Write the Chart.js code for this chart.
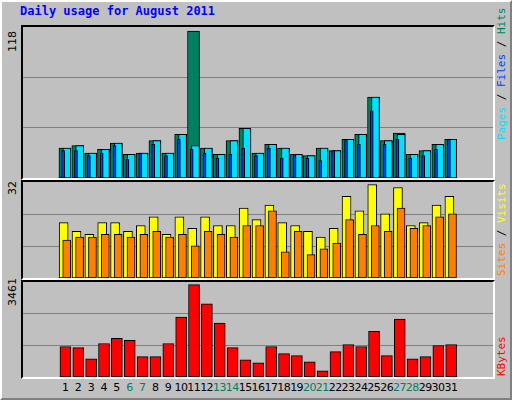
<!DOCTYPE html>
<html>
<head>
<meta charset="utf-8">
<script src="https://cdn.jsdelivr.net/npm/chart.js@4"></script>
<style>
  body { margin: 0; background: #fff; }
  #frame { position: relative; width: 508px; height: 396px; background: #C0C0C0;
    border-left: 2px solid #fff; border-top: 2px solid #fff;
    border-right: 2px solid #808080; border-bottom: 2px solid #808080; overflow: hidden; }
  .panel { position: absolute; left: 19px; width: 470px;
    border-top: 2px solid #000; border-left: 2px solid #000;
    border-right: 2px solid #fff; border-bottom: 2px solid #fff; }
  .panel canvas { display: block; }
  .txt { position: absolute; font-family: "DejaVu Sans", sans-serif; font-size: 11px; white-space: nowrap; }
  .rot { transform-origin: left top; transform: rotate(-90deg); }
  .side { position: absolute; font-family: "DejaVu Sans Mono", monospace; font-size: 11px; white-space: nowrap;
    transform-origin: left top; transform: rotate(-90deg); }
</style>
</head>
<body>
<div id="frame">
  <div class="txt" style="left:18px;top:2px;font-family:'DejaVu Sans Mono',monospace;font-weight:bold;font-size:12px;color:#0000ff;">Daily usage for August 2011</div>

  <div class="panel" style="top:23px;height:151px;"><canvas id="c1"></canvas></div>
  <div class="panel" style="top:178px;height:96px;"><canvas id="c2"></canvas></div>
  <div class="panel" style="top:278px;height:95px;"><canvas id="c3"></canvas></div>

  <div class="txt rot" style="left:4px;top:50px;">118</div>
  <div class="txt rot" style="left:4px;top:193px;">32</div>
  <div class="txt rot" style="left:4px;top:304px;">3461</div>

  <div class="side" style="left:493px;top:138px;"><span style="color:#00e0ff">Pages</span> / <span style="color:#0040ff">Files</span> / <span style="color:#008060">Hits</span></div>
  <div class="side" style="left:493px;top:274px;"><span style="color:#ff8000">Sites</span> / <span style="color:#ffff00">Visits</span></div>
  <div class="side" style="left:493px;top:374px;color:#ff0000;">KBytes</div>
  <div id="xlabels"></div>
</div>

<script>
// ===== Data =====
const days = [1,2,3,4,5,6,7,8,9,10,11,12,13,14,15,16,17,18,19,20,21,22,23,24,25,26,27,28,29,30,31];
const weekend = [6,7,13,14,20,21,27,28];
const hits   = [24,26,20,23,28,19,20,30,20,35,118,24,19,30,40,20,27,24,19,18,24,22,31,35,65,30,36,19,22,27,31];
const files  = [24,26,20,23,28,19,20,30,20,35,26,24,19,30,40,20,27,24,19,18,24,22,31,35,65,30,35,19,22,27,31];
const pages  = [22,22,18,20,26,15,20,27,18,31,23,20,16,19,24,18,24,16,19,16,14,22,30,27,54,27,31,16,18,23,31];
const sites  = [19,16,15,19,19,16,18,21,15,21,17,21,18,18,24,20,25,19,18,16,14,17,28,23,32,22,31,18,19,25,28];
const visits = [13,14,14,15,15,14,15,16,14,15,11,16,15,14,18,18,23,9,16,8,10,12,20,15,18,16,24,17,18,21,22];
const kbytes = [1141,1103,685,1255,1445,1369,761,761,1255,2244,3461,2739,2016,1103,647,533,1141,875,799,571,228,951,1217,1141,1712,799,2168,685,761,1179,1217];
const maxHits = 118, maxVisits = 32, maxKB = 3461;

// ===== Helpers =====
const pts = (vals, shift) => vals.map((v, i) => ({ x: days[i] + shift, y: v }));

// order: higher = drawn further back
function bars(label, vals, shift, color, thick, order) {
  return { label, data: pts(vals, shift), backgroundColor: color, borderColor: '#000',
    borderWidth: 1, barThickness: thick, grouped: false, borderSkipped: false, order };
}

function panel(id, datasets, max) {
  const top = max * 1.028;
  return new Chart(document.getElementById(id), {
    type: 'bar',
    data: { datasets },
    options: {
      responsive: false, animation: false,
      layout: { padding: 0 },
      plugins: { legend: { display: false }, tooltip: { enabled: false } },
      scales: {
        x: { type: 'linear', min: 0.33, max: 31.66, display: false },
        y: { min: 0, max: top, grid: { color: '#808080', drawTicks: false, lineWidth: 1 },
             border: { display: false }, ticks: { display: false },
             afterBuildTicks: s => { s.ticks = [{ value: top / 3 }, { value: top * 2 / 3 }]; } }
      }
    }
  });
}

function sizeCanvas(id, w, h) {
  const c = document.getElementById(id);
  c.width = w; c.height = h; c.style.width = w + 'px'; c.style.height = h + 'px';
}
sizeCanvas('c1', 470, 151); sizeCanvas('c2', 470, 96); sizeCanvas('c3', 470, 95);

panel('c1', [
  bars('Hits', hits, -0.02, '#008060', 12, 2),
  bars('Files', files, 0.13, '#00e0ff', 8, 1),
  bars('Pages', pages, -0.16, '#0040ff', 3, 0)
], maxHits);

panel('c2', [
  bars('Sites', sites, -0.12, '#ffff00', 9, 1),
  bars('Visits', visits, 0.12, '#ff8000', 8, 0)
], maxVisits);

const kb = panel('c3', [bars('KBytes', kbytes, 0.02, '#ff0000', 11, 0)], maxKB);

// ===== X labels placed via the library's scale =====
const xl = document.getElementById('xlabels');
days.forEach(d => {
  const s = document.createElement('div');
  s.className = 'txt';
  s.textContent = d;
  s.style.color = weekend.includes(d) ? '#008060' : '#000';
  s.style.fontSize = '11px';
  s.style.letterSpacing = '-0.5px';
  const px = 21 + kb.scales.x.getPixelForValue(d);
  s.style.left = px + 'px';
  s.style.top = '379px';
  s.style.transform = 'translateX(-50%)';
  xl.appendChild(s);
});
</script>
</body>
</html>
